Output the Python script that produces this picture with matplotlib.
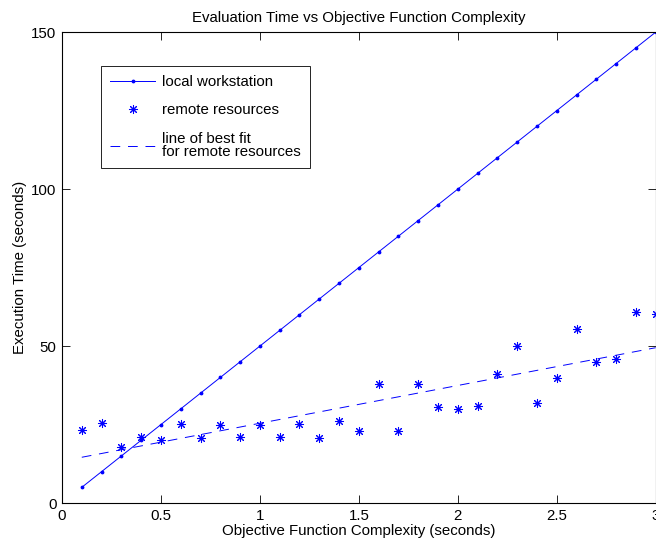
import matplotlib
matplotlib.use("Agg")
import matplotlib.pyplot as plt
import numpy as np

plt.rcParams['font.family'] = ['Liberation Sans', 'DejaVu Sans']

# objective function complexity (seconds)
complexity = [0.1, 0.2, 0.3, 0.4, 0.5, 0.6, 0.7, 0.8, 0.9, 1.0,
              1.1, 1.2, 1.3, 1.4, 1.5, 1.6, 1.7, 1.8, 1.9, 2.0,
              2.1, 2.2, 2.3, 2.4, 2.5, 2.6, 2.7, 2.8, 2.9, 3.0]

# execution time on the local workstation
local_time = [5, 10, 15, 20, 25, 30, 35, 40, 45, 50,
              55, 60, 65, 70, 75, 80, 85, 90, 95, 100,
              105, 110, 115, 120, 125, 130, 135, 140, 145, 150]

# execution time on remote resources
remote_time = [23.2, 25.4, 18.0, 20.9, 20.1, 25.2, 20.7, 24.8, 21.0, 24.8,
               21.1, 25.2, 20.7, 26.2, 22.9, 38.0, 23.1, 38.0, 30.6, 30.0,
               30.9, 41.0, 49.9, 32.0, 39.8, 55.3, 44.8, 46.0, 61.0, 60.3]

fit = np.polyfit(complexity, remote_time, 1)
fit_time = np.polyval(fit, complexity)

fs = 10.8
fig = plt.figure(figsize=(6.56, 5.45), dpi=100)
ax = fig.add_axes([0.0945, 0.077, 0.905, 0.864])

blue = '#0000ff'
ax.plot(complexity, local_time, color=blue, lw=0.7, marker='.', markersize=3.5,
        label='local workstation')
ax.plot(complexity, remote_time, color=blue, lw=0, marker=(8, 2, 0),
        markersize=6.5, markeredgewidth=0.75, label='remote resources')
ax.plot(complexity, fit_time, color=blue, lw=0.7, dashes=(10, 8),
        label='line of best fit\nfor remote resources')

ax.set_xlim(0, 3)
ax.set_ylim(0, 150)
ax.set_xticks([0, 0.5, 1, 1.5, 2, 2.5, 3])
ax.set_xticklabels(['0', '0.5', '1', '1.5', '2', '2.5', '3'])
ax.set_yticks([0, 50, 100, 150])
ax.tick_params(direction='in', top=True, right=True, labelsize=fs, length=6, width=0.6, pad=4)
for s in ax.spines.values():
    s.set_linewidth(0.8)

ax.set_title('Evaluation Time vs Objective Function Complexity', fontsize=fs, pad=7)
ax.set_xlabel('Objective Function Complexity (seconds)', fontsize=fs, labelpad=1)
ax.set_ylabel('Execution Time (seconds)', fontsize=fs, labelpad=3)

leg = ax.legend(loc='upper left', bbox_to_anchor=(0.0658, 0.928), fontsize=fs,
                fancybox=False, edgecolor='black', framealpha=1,
                handlelength=3.0, handletextpad=0.45, borderpad=0.6,
                labelspacing=0.95, borderaxespad=0)
leg.get_frame().set_linewidth(0.6)
for t in leg.get_texts():
    t.set_linespacing(0.95)

fig.savefig('out.png', dpi=100)
